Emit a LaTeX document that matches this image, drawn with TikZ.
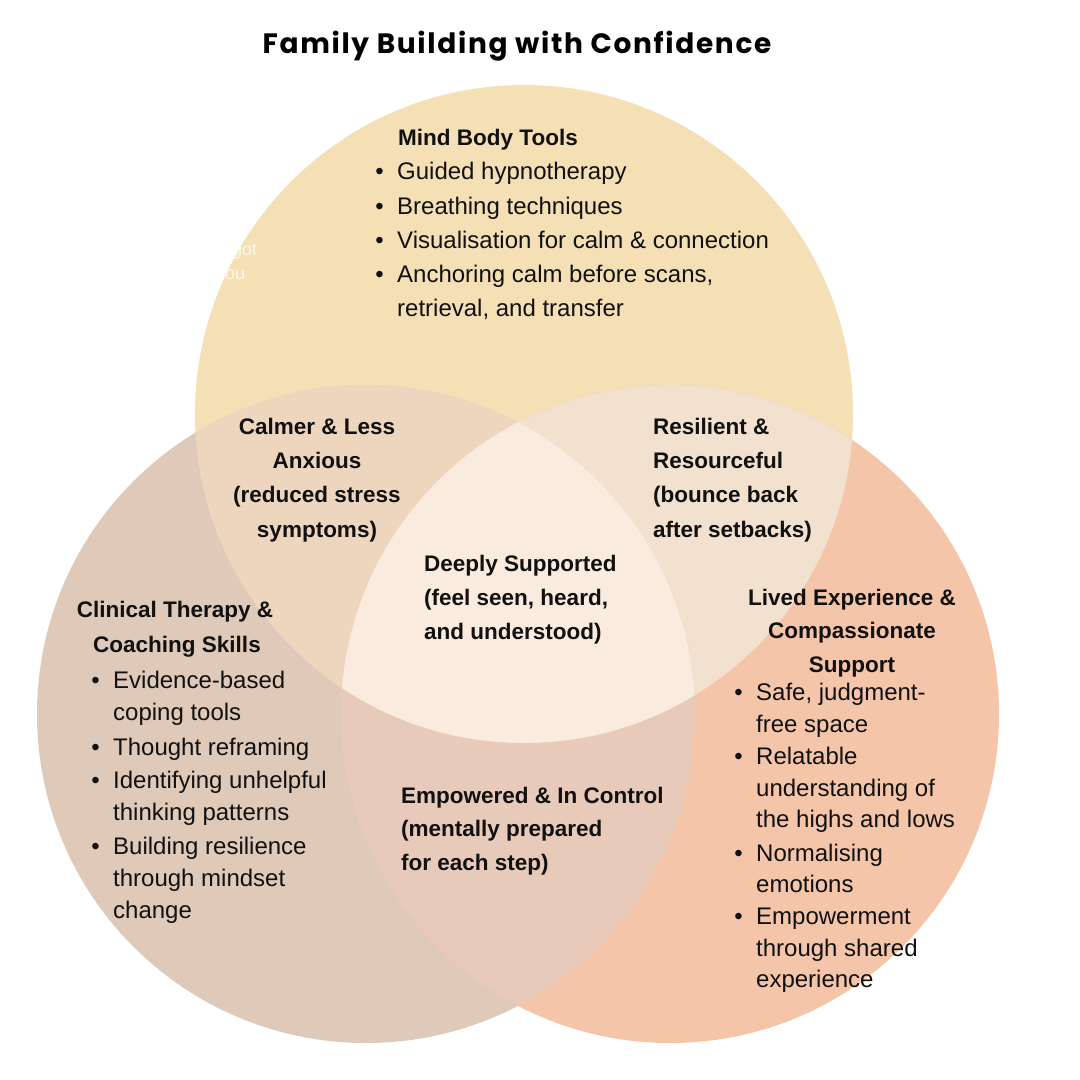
\documentclass[tikz,border=0pt]{standalone}
\usepackage{fontspec}
\setmainfont{Liberation Sans}
\newfontfamily\titlefont{Poppins}[LetterSpace=6]
\definecolor{cTop}{HTML}{F5E0B5}
\definecolor{cLeft}{HTML}{DFCAB9}
\definecolor{cRight}{HTML}{F4C5A8}
\definecolor{cTL}{HTML}{EED6BE}
\definecolor{cTR}{HTML}{F2E1CE}
\definecolor{cLR}{HTML}{E7CABA}
\definecolor{cMid}{HTML}{F9EBDE}
\definecolor{ink}{HTML}{111111}
\newcommand\bl{\llap{\textbullet\hspace{13.5pt}}}
\tikzset{
  reg/.style={font=\fontsize{24}{29}\selectfont, text=ink, inner sep=0pt, anchor=base west},
  hd/.style={font=\fontsize{22.5}{27}\selectfont\bfseries, text=ink, inner sep=0pt, anchor=base west},
  hdc/.style={hd, anchor=base},
  ghost/.style={font=\fontsize{18}{20}\selectfont, text=white, text opacity=0.75, inner sep=0pt, anchor=base west}
}
\begin{document}
\begin{tikzpicture}[x=1pt,y=-1pt]
\useasboundingbox (0,0) rectangle (1080,1080);
\fill[white] (0,0) rectangle (1080,1080);
% circles
\coordinate (cT) at (524,414);
\coordinate (cL) at (366,714);
\coordinate (cR) at (670,714);
\fill[cTop] (cT) circle[radius=329pt];
\fill[cLeft] (cL) circle[radius=329pt];
\fill[cRight] (cR) circle[radius=329pt];
\begin{scope}
  \clip (cT) circle[radius=329pt];
  \fill[cTL] (cL) circle[radius=329pt];
  \fill[cTR] (cR) circle[radius=329pt];
\end{scope}
\begin{scope}
  \clip (cL) circle[radius=329pt];
  \fill[cLR] (cR) circle[radius=329pt];
\end{scope}
\begin{scope}
  \clip (cT) circle[radius=329pt];
  \clip (cL) circle[radius=329pt];
  \fill[cMid] (cR) circle[radius=329pt];
\end{scope}
% faint leftover text
\node[ghost] (g1) at (232,255) {got};
\node[ghost] (g2) at (225,279) {ou};
% title
\node[font=\titlefont\bfseries\fontsize{28}{32}\selectfont, text=black, inner sep=0pt, anchor=base] (title) at (517,53) {Family Building with Confidence};
% top circle
\node[hd] (t0) at (398,145) {Mind Body Tools};
\node[reg] (t1) at (397,179) {\bl Guided hypnotherapy};
\node[reg] (t2) at (397,214) {\bl Breathing techniques};
\node[reg] (t3) at (397,248) {\bl Visualisation for calm \& connection};
\node[reg] (t4) at (397,282) {\bl Anchoring calm before scans,};
\node[reg] (t5) at (397,316) {retrieval, and transfer};
% top-left lens
\node[hdc] (a1) at (317,434) {Calmer \& Less};
\node[hdc] (a2) at (317,468) {Anxious};
\node[hdc] (a3) at (317,502) {(reduced stress};
\node[hdc] (a4) at (317,537) {symptoms)};
% top-right lens
\node[hd] (b1) at (653,434) {Resilient \&};
\node[hd] (b2) at (653,468) {Resourceful};
\node[hd] (b3) at (653,502) {(bounce back};
\node[hd] (b4) at (653,537) {after setbacks)};
% centre
\node[hd] (m1) at (424,571) {Deeply Supported};
\node[hd] (m2) at (424,605) {(feel seen, heard,};
\node[hd] (m3) at (424,639) {and understood)};
% left circle
\node[hdc] (l0) at (175,617) {Clinical Therapy \&};
\node[hdc] (l00) at (177,652) {Coaching Skills};
\node[reg] (l1) at (113,688) {\bl Evidence-based};
\node[reg] (l2) at (113,720) {coping tools};
\node[reg] (l3) at (113,755) {\bl Thought reframing};
\node[reg] (l4) at (113,788) {\bl Identifying unhelpful};
\node[reg] (l5) at (113,820) {thinking patterns};
\node[reg] (l6) at (113,854) {\bl Building resilience};
\node[reg] (l7) at (113,886) {through mindset};
\node[reg] (l8) at (113,918) {change};
% bottom lens
\node[hd] (e1) at (401,803) {Empowered \& In Control};
\node[hd] (e2) at (401,836) {(mentally prepared};
\node[hd] (e3) at (401,870) {for each step)};
% right circle
\node[hdc] (r0) at (852,605) {Lived Experience \&};
\node[hdc] (r00) at (852,638) {Compassionate};
\node[hdc] (r000) at (852,672) {Support};
\node[reg] (r1) at (756,700) {\bl Safe, judgment-};
\node[reg] (r2) at (756,732) {free space};
\node[reg] (r3) at (756,764) {\bl Relatable};
\node[reg] (r4) at (756,796) {understanding of};
\node[reg] (r5) at (756,827) {the highs and lows};
\node[reg] (r6) at (756,861) {\bl Normalising};
\node[reg] (r7) at (756,892) {emotions};
\node[reg] (r8) at (756,924) {\bl Empowerment};
\node[reg] (r9) at (756,956) {through shared};
\node[reg] (r10) at (756,987) {experience};
\end{tikzpicture}
\end{document}
